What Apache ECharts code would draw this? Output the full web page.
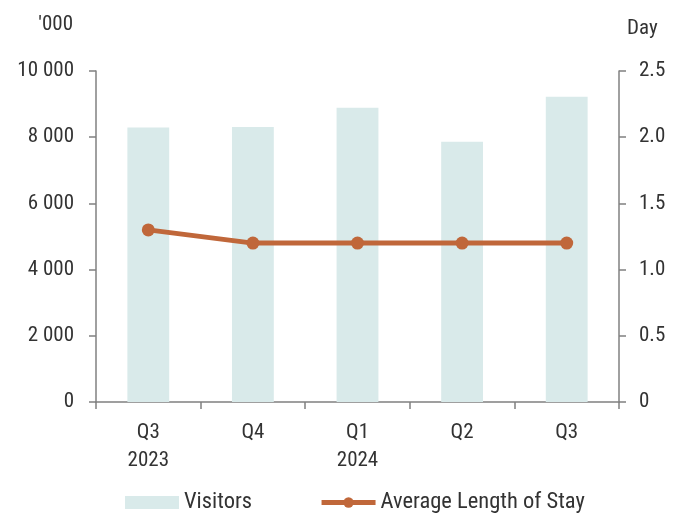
<!DOCTYPE html>
<html>
<head>
<meta charset="utf-8">
<script src="https://cdn.jsdelivr.net/npm/echarts@6/dist/echarts.min.js"></script>
<style>html,body{margin:0;padding:0;background:#fff}#c{width:682px;height:515px}</style>
</head>
<body>
<div id="c"></div>
<script>
const categories = ['Q3\n2023', 'Q4', 'Q1\n2024', 'Q2', 'Q3'];
const visitors = [8290, 8310, 8890, 7860, 9220];
const avgStay = [1.3, 1.2, 1.2, 1.2, 1.2];
const leftTicks = [0, 2000, 4000, 6000, 8000, 10000];
const rightTicks = [0, 0.5, 1.0, 1.5, 2.0, 2.5];

const FONT = '"Roboto Condensed", "Liberation Sans Narrow", sans-serif';
const FS = 21;
const TXT = '#333333';
const AX = '#808080';
const LINE = '#C0673A';
const chart = echarts.init(document.getElementById('c'));
chart.setOption({
  animation: false,
  textStyle: { fontFamily: FONT },
  grid: { left: 96, right: 63, top: 71, bottom: 113 },
  legend: {
    top: 491, left: 125, padding: 0,
    itemGap: 67,
    itemWidth: 54, itemHeight: 13,
    textStyle: { fontFamily: FONT, fontSize: 22.5, color: TXT },
    data: [
      { name: 'Visitors', icon: 'rect', itemStyle: { color: '#D9EAEA' } },
      { name: 'Average Length of Stay', lineStyle: { width: 5, color: LINE }, itemStyle: { color: LINE } }
    ]
  },
  xAxis: {
    type: 'category', data: categories,
    axisLine: { lineStyle: { color: AX, width: 1.5 } },
    axisTick: { show: true, length: 7, lineStyle: { color: AX, width: 1.5 } },
    axisLabel: { fontFamily: FONT, fontSize: FS, color: TXT, lineHeight: 28, margin: 17 }
  },
  yAxis: [
    {
      type: 'value', min: 0, max: 10000, interval: 2000,
      name: "'000", nameLocation: 'end', nameGap: 36,
      nameTextStyle: { fontFamily: FONT, fontSize: FS, color: TXT, align: 'right', padding: [0, 23, 0, 0] },
      splitLine: { show: false },
      axisLine: { show: true, lineStyle: { color: AX, width: 1.5 } },
      axisTick: { show: true, length: 7, lineStyle: { color: AX, width: 1.5 } },
      axisLabel: {
        fontFamily: FONT, fontSize: FS, color: TXT, margin: 22,
        formatter: v => leftTicks.includes(v) ? String(v).replace(/\B(?=(\d{3})+(?!\d))/g, ' ') : ''
      }
    },
    {
      type: 'value', min: 0, max: 2.5, interval: 0.5,
      name: 'Day', nameLocation: 'end', nameGap: 32,
      nameTextStyle: { fontFamily: FONT, fontSize: FS, color: TXT, align: 'left', padding: [0, 0, 0, 8] },
      splitLine: { show: false },
      axisLine: { show: true, lineStyle: { color: AX, width: 1.5 } },
      axisTick: { show: true, length: 7, lineStyle: { color: AX, width: 1.5 } },
      axisLabel: {
        fontFamily: FONT, fontSize: FS, color: TXT, margin: 20,
        formatter: v => rightTicks.includes(v) ? (v === 0 ? '0' : v.toFixed(1)) : ''
      }
    }
  ],
  series: [
    {
      name: 'Visitors', type: 'bar', data: visitors, yAxisIndex: 0,
      barWidth: '40%', itemStyle: { color: '#D9EAEA' }
    },
    {
      name: 'Average Length of Stay', type: 'line', data: avgStay, yAxisIndex: 1,
      symbol: 'circle', symbolSize: 13,
      lineStyle: { color: LINE, width: 5 },
      itemStyle: { color: LINE }
    }
  ]
});
</script>
</body>
</html>
